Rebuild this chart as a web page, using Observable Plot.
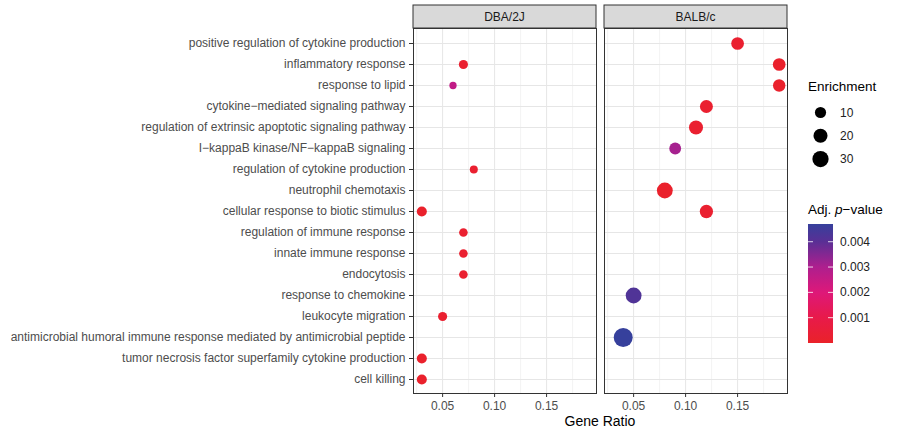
<!DOCTYPE html>
<html>
<head>
<meta charset="utf-8">
<script src="https://cdn.jsdelivr.net/npm/d3@7"></script>
<script src="https://cdn.jsdelivr.net/npm/@observablehq/plot@0.6"></script>
<style>
  body { margin: 0; background: #fff; }
  svg { display: block; }
</style>
</head>
<body>
<div id="chart"></div>
<script>
// ---- data ----
const terms = [
  "positive regulation of cytokine production",
  "inflammatory response",
  "response to lipid",
  "cytokine−mediated signaling pathway",
  "regulation of extrinsic apoptotic signaling pathway",
  "I−kappaB kinase/NF−kappaB signaling",
  "regulation of cytokine production",
  "neutrophil chemotaxis",
  "cellular response to biotic stimulus",
  "regulation of immune response",
  "innate immune response",
  "endocytosis",
  "response to chemokine",
  "leukocyte migration",
  "antimicrobial humoral immune response mediated by antimicrobial peptide",
  "tumor necrosis factor superfamily cytokine production",
  "cell killing"
];
const strains = ["DBA/2J", "BALB/c"];

const dbaTerms = [
  "inflammatory response",
  "response to lipid",
  "regulation of cytokine production",
  "cellular response to biotic stimulus",
  "regulation of immune response",
  "innate immune response",
  "endocytosis",
  "leukocyte migration",
  "tumor necrosis factor superfamily cytokine production",
  "cell killing"
];
const dbaRatio      = [0.07, 0.06, 0.08, 0.03, 0.07, 0.07, 0.07, 0.05, 0.03, 0.03];
const dbaEnrichment = [5, 2, 3, 7, 4, 4, 4, 5, 7, 7];
const dbaPadj       = [0.0002, 0.0026, 0.0002, 0.0001, 0.0002, 0.0002, 0.0002, 0.0002, 0.0001, 0.0001];

const balbTerms = [
  "positive regulation of cytokine production",
  "inflammatory response",
  "response to lipid",
  "cytokine−mediated signaling pathway",
  "regulation of extrinsic apoptotic signaling pathway",
  "I−kappaB kinase/NF−kappaB signaling",
  "neutrophil chemotaxis",
  "cellular response to biotic stimulus",
  "response to chemokine",
  "antimicrobial humoral immune response mediated by antimicrobial peptide"
];
const balbRatio      = [0.15, 0.19, 0.19, 0.12, 0.11, 0.09, 0.08, 0.12, 0.05, 0.04];
const balbEnrichment = [15, 15, 14, 16, 20, 12, 28, 17, 28, 45];
const balbPadj       = [0.0002, 0.0001, 0.0001, 0.0002, 0.0002, 0.0031, 0.0001, 0.0002, 0.0042, 0.0047];

const xTicks = [0.05, 0.10, 0.15];
const xMinorTicks = [0.025, 0.075, 0.125, 0.175];
const sizeLegendValues = [10, 20, 30];
const colorLegendTicks = [0.001, 0.002, 0.003, 0.004];

// ---- table ----
const rows = [
  ...dbaTerms.map((t, i) => ({strain: "DBA/2J", term: t, ratio: dbaRatio[i], enrichment: dbaEnrichment[i], padj: dbaPadj[i]})),
  ...balbTerms.map((t, i) => ({strain: "BALB/c", term: t, ratio: balbRatio[i], enrichment: balbEnrichment[i], padj: balbPadj[i]}))
];

const colorOpts = {
  type: "linear",
  domain: [0, 0.001, 0.002, 0.003, 0.004, 0.0047],
  range: ["#ea2229", "#e81a4a", "#de1879", "#ae1f8e", "#5a2f95", "#36409c"],
  interpolate: "rgb"
};
const rOpts = {type: "sqrt", domain: [0, 40], range: [2.1, 9.06]};

const FONT = "'Liberation Sans', Arial, Helvetica, sans-serif";

const plot = Plot.plot({
  width: 897,
  height: 431,
  marginLeft: 413,
  marginRight: 110,
  marginTop: 28,
  marginBottom: 38,
  style: {fontFamily: FONT, fontSize: "12px", background: "#fff", overflow: "visible"},
  fx: {domain: strains, paddingInner: 0.042, paddingOuter: 0, axis: null, label: null},
  x: {domain: [0.022, 0.198], label: null},
  y: {type: "point", domain: terms, padding: 0.6, label: null},
  r: rOpts,
  color: colorOpts,
  marks: [
    Plot.gridX(xMinorTicks, {stroke: "#ebebeb", strokeOpacity: 1, strokeWidth: 0.6}),
    Plot.gridX(xTicks, {stroke: "#e6e6e6", strokeOpacity: 1, strokeWidth: 1}),
    Plot.gridY(terms, {stroke: "#e6e6e6", strokeOpacity: 1, strokeWidth: 1}),
    Plot.dot(rows, {fx: "strain", x: "ratio", y: "term", r: "enrichment", fill: "padj", stroke: null}),
    Plot.frame({stroke: "#333", strokeWidth: 1}),
    Plot.axisY({text: null, tickSize: 4, stroke: "#333", label: null}),
    Plot.axisY({tickSize: 0, tickPadding: 8, fill: "#4d4d4d", fontSize: 12, label: null}),
    Plot.axisX(xTicks, {text: null, tickSize: 4, stroke: "#333", label: null}),
    Plot.axisX(xTicks, {tickSize: 0, tickPadding: 8, fill: "#4d4d4d", fontSize: 12, tickFormat: d3.format(".2f"), label: null})
  ]
});

document.getElementById("chart").appendChild(plot);

// ---- extras: strips, axis title, legends ----
const svg = d3.select(plot);
const fxScale = plot.scale("fx");
const bw = fxScale.bandwidth;

const strip = svg.append("g");
strains.forEach(s => {
  const x0 = fxScale.apply(s);
  strip.append("rect")
    .attr("x", x0).attr("y", 5).attr("width", bw).attr("height", 23)
    .attr("fill", "#d9d9d9").attr("stroke", "#333").attr("stroke-width", 1);
  strip.append("text")
    .attr("x", x0 + bw / 2).attr("y", 16.5)
    .attr("text-anchor", "middle").attr("dominant-baseline", "central")
    .attr("font-family", FONT).attr("font-size", 12).attr("fill", "#1a1a1a")
    .text(s);
});

const fxRange = fxScale.range;
svg.append("text")
  .attr("x", (fxRange[0] + fxRange[1]) / 2).attr("y", 426)
  .attr("text-anchor", "middle")
  .attr("font-family", FONT).attr("font-size", 14).attr("fill", "#000")
  .text("Gene Ratio");

// size legend
const rS = Plot.scale({r: rOpts});
const lg = svg.append("g").attr("font-family", FONT).attr("text-anchor", "start");
lg.append("text").attr("x", 808).attr("y", 91).attr("font-size", 13.5).attr("fill", "#000").text("Enrichment");
sizeLegendValues.forEach((v, i) => {
  const cy = 112.5 + i * 23.3;
  lg.append("circle").attr("cx", 820.5).attr("cy", cy).attr("r", rS.apply(v)).attr("fill", "#000");
  lg.append("text").attr("x", 840).attr("y", cy).attr("dominant-baseline", "central")
    .attr("font-size", 12).attr("fill", "#222").text(v);
});

// color legend
const cS = Plot.scale({color: colorOpts});
const barX = 808, barW = 25, barTop = 224, barBot = 343;
const cDom = [0, 0.0047];
const yC = d3.scaleLinear().domain(cDom).range([barBot, barTop]);
const defs = svg.append("defs");
const grad = defs.append("linearGradient").attr("id", "padjGrad")
  .attr("x1", 0).attr("y1", 1).attr("x2", 0).attr("y2", 0);
colorOpts.domain.forEach(v => {
  grad.append("stop").attr("offset", (v - cDom[0]) / (cDom[1] - cDom[0])).attr("stop-color", cS.apply(v));
});
const t = lg.append("text").attr("x", 808).attr("y", 214).attr("font-size", 13.5).attr("fill", "#000");
t.append("tspan").text("Adj. ");
t.append("tspan").attr("font-style", "italic").text("p");
t.append("tspan").text("−value");
lg.append("rect").attr("x", barX).attr("y", barTop).attr("width", barW).attr("height", barBot - barTop)
  .attr("fill", "url(#padjGrad)");
colorLegendTicks.forEach(v => {
  const y = yC(v);
  lg.append("line").attr("x1", barX).attr("x2", barX + 5).attr("y1", y).attr("y2", y).attr("stroke", "#fff").attr("stroke-width", 0.8);
  lg.append("line").attr("x1", barX + barW - 5).attr("x2", barX + barW).attr("y1", y).attr("y2", y).attr("stroke", "#fff").attr("stroke-width", 0.8);
  lg.append("text").attr("x", 840).attr("y", y).attr("dominant-baseline", "central")
    .attr("font-size", 12).attr("fill", "#222").text(d3.format(".3f")(v));
});
</script>
</body>
</html>
